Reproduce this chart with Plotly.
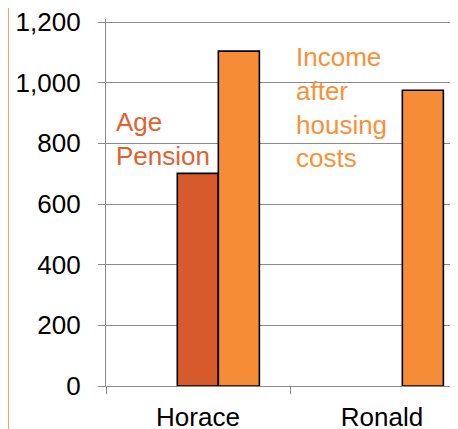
import plotly.graph_objects as go

categories = ["Horace", "Ronald"]
age_pension = [701, None]
income_after_housing = [1104, 975]
y_ticks = [0, 200, 400, 600, 800, 1000, 1200]
y_tick_labels = ["0", "200", "400", "600", "800", "1,000", "1,200"]

c_age = "#D65A2B"
c_inc = "#F68D36"
font = "Liberation Sans, Arial, sans-serif"

fig = go.Figure()
fig.add_trace(go.Bar(x=categories, y=age_pension, name="Age Pension",
                     marker=dict(color=c_age, line=dict(color="black", width=1.6)),
                     width=0.223, offset=-0.1125))
fig.add_trace(go.Bar(x=categories, y=income_after_housing, name="Income after housing costs",
                     marker=dict(color=c_inc, line=dict(color="black", width=1.6)),
                     width=0.223, offset=0.1105))

fig.add_annotation(x=-0.455, y=814, xref="x", yref="y", text="Age<br>Pension",
                   showarrow=False, xanchor="left", yanchor="middle", align="left",
                   font=dict(family=font, size=26, color="#E0622F"))
fig.add_annotation(x=0.52, y=918, xref="x", yref="y", text="Income<br>after<br>housing<br>costs",
                   showarrow=False, xanchor="left", yanchor="middle", align="left",
                   font=dict(family=font, size=26, color="#F7913A"))

fig.add_shape(type="line", xref="paper", yref="paper", x0=-0.278, x1=-0.278, y0=-0.3, y1=1.2,
              line=dict(color="#F59A4A", width=1.5))

fig.update_layout(
    width=458, height=429,
    margin=dict(l=98, r=8, t=11, b=51),
    paper_bgcolor="white", plot_bgcolor="white",
    showlegend=False, barmode="overlay",
    font=dict(family=font, size=26, color="black"),
)
fig.update_xaxes(range=[-0.5, 1.413], tickson="boundaries", ticks="outside", ticklen=7,
                 tickcolor="#8a8a8a", tickwidth=1.3, showline=True, linecolor="#8a8a8a",
                 linewidth=1.3, showgrid=False, tickfont=dict(size=26), ticklabelstandoff=8,
                 ticklabeloverflow="allow", automargin=False)
fig.update_yaxes(range=[0, 1210], tickvals=y_ticks, ticktext=y_tick_labels, ticks="outside",
                 ticklen=7, tickcolor="#8a8a8a", tickwidth=1.3, showline=True,
                 linecolor="#8a8a8a", linewidth=1.3, showgrid=True, gridcolor="#8a8a8a",
                 gridwidth=1.3, zeroline=False, tickfont=dict(size=26), ticklabelstandoff=12,
                 ticklabeloverflow="allow", automargin=False)

fig.write_html("out.html")
